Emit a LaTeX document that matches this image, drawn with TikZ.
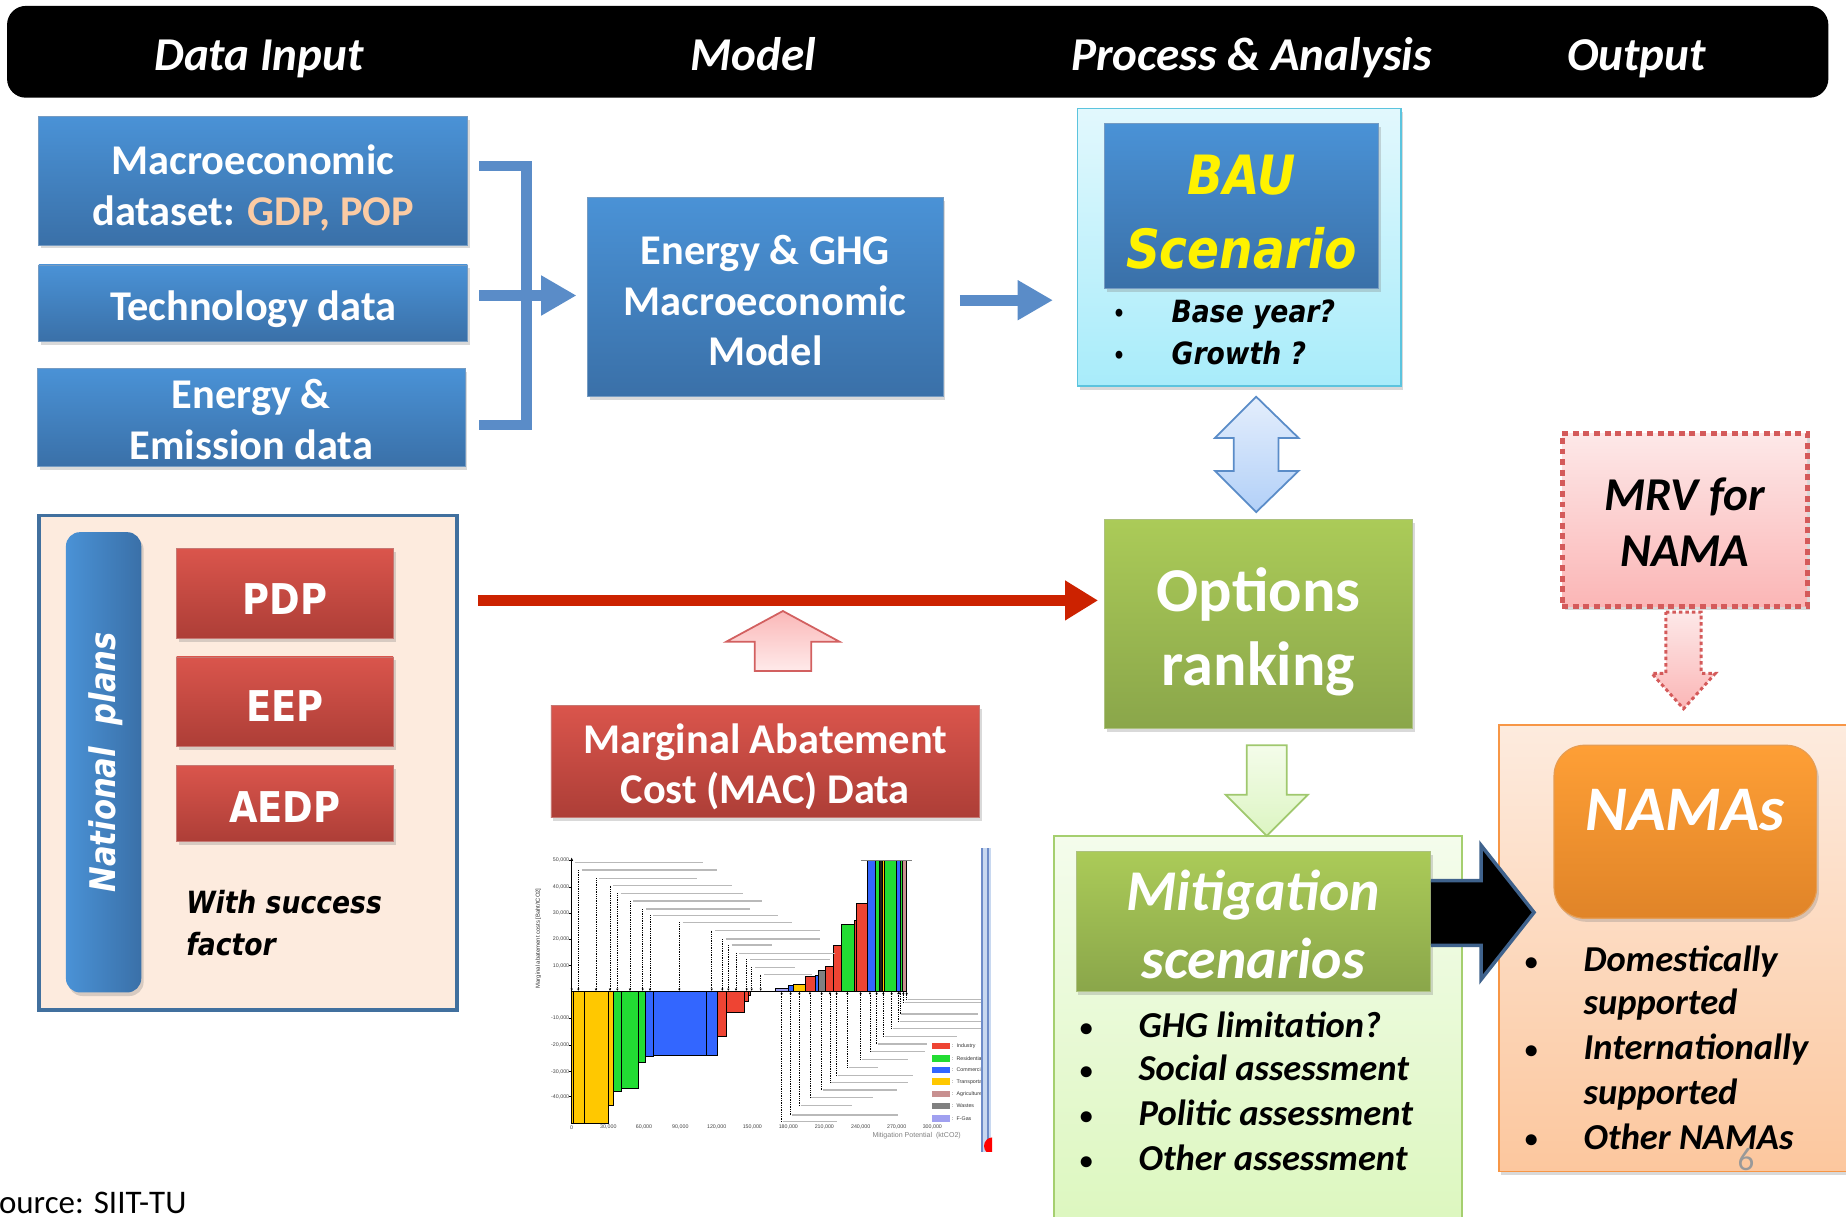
\documentclass[tikz,border=0pt]{standalone}
\usepackage{fontspec}
\setmainfont{Carlito}
\newfontfamily\tah[FakeStretch=0.87]{DejaVu Sans}
\newfontfamily\chartfont{Liberation Sans}
\usetikzlibrary{shadows,arrows.meta,calc}
\definecolor{blueT}{HTML}{4A92D6}
\definecolor{blueB}{HTML}{3A70A8}
\definecolor{redT}{HTML}{DA554C}
\definecolor{redB}{HTML}{AD3E37}
\definecolor{grnT}{HTML}{ABCB58}
\definecolor{grnB}{HTML}{8AA64A}
\definecolor{orgT}{HTML}{FE9F36}
\definecolor{orgB}{HTML}{E08428}
\definecolor{peach}{HTML}{FBCBA4}
\definecolor{brk}{HTML}{5A8CC8}
\definecolor{arrred}{HTML}{CC2200}
\definecolor{cY}{HTML}{FFC800}
\definecolor{cG}{HTML}{22DD33}
\definecolor{cB}{HTML}{3366FF}
\definecolor{cR}{HTML}{EE4433}
\definecolor{cGr}{HTML}{808080}
\definecolor{cL}{HTML}{A0A0F0}
\definecolor{cA}{HTML}{C89090}
\definecolor{cK}{HTML}{202020}
\definecolor{bauT}{HTML}{E2F8FD}
\definecolor{bauB}{HTML}{A8ECFA}
\definecolor{bauD}{HTML}{5CC4DE}
\definecolor{daT}{HTML}{E4EEFC}
\definecolor{daB}{HTML}{B2D0F8}
\definecolor{natF}{HTML}{FDEBDE}
\definecolor{natD}{HTML}{41709E}
\definecolor{pkT}{HTML}{FAB8B8}
\definecolor{pkB}{HTML}{FFEAEA}
\definecolor{pkD}{HTML}{D26060}
\definecolor{edgeF}{HTML}{C8D8F0}
\definecolor{edgeD}{HTML}{6E8CC8}
\definecolor{mitT}{HTML}{F4FCEC}
\definecolor{mitB}{HTML}{DCF7BE}
\definecolor{mitD}{HTML}{A5CF6F}
\definecolor{gaT}{HTML}{F4FCEA}
\definecolor{gaB}{HTML}{DCF5C2}
\definecolor{gaD}{HTML}{A0C86E}
\definecolor{namT}{HTML}{FDEBDE}
\definecolor{namB}{HTML}{FCC79E}
\definecolor{namD}{HTML}{F79646}
\definecolor{karD}{HTML}{3F628C}
\definecolor{mrvT}{HTML}{FDE8E8}
\definecolor{mrvB}{HTML}{FBB6B6}
\definecolor{mrvD}{HTML}{D45A5A}
\newcommand{\vblk}[7]{%
 \draw[#1] ({#2-#5},#3) -- ({#2+#5},#3) -- ({#2+#5},#7) -- ({#2+#6},#7) -- (#2,#4) -- ({#2-#6},#7) -- ({#2-#5},#7) -- cycle;}
\begin{document}
\begin{tikzpicture}[x=1pt,y=-1pt,
  sh/.style={drop shadow={opacity=0.3,shadow xshift=2pt,shadow yshift=-3pt}},
  sz/.style 2 args={minimum width=#1pt,minimum height=#2pt,inner sep=0pt},
  bluebox/.style={top color=blueT,bottom color=blueB,draw=blueB!70!white,line width=0.6pt,sh},
  redbox/.style={top color=redT,bottom color=redB,draw=redB!70!white,line width=0.6pt,sh},
  grnbox/.style={top color=grnT,bottom color=grnB,draw=grnB!70!white,line width=0.6pt,sh},
  wtxt/.style={text=white,align=center,inner sep=0pt,font=\bfseries\fontsize{36}{43}\selectfont},
  ptxt/.style={text=white,inner sep=0pt,font=\tah\bfseries\fontsize{36}{40}\selectfont},
  hdrtxt/.style={anchor=base,text=white,font=\bfseries\itshape\fontsize{40}{48}\selectfont},
  bul/.style={anchor=base west,inner sep=0pt,font=\bfseries\itshape\fontsize{31}{37}\selectfont},
  bdot/.style={anchor=base west,inner sep=0pt,font=\bfseries\fontsize{22}{26}\selectfont},
  tdot/.style={anchor=base west,inner sep=0pt,font=\tah\bfseries\fontsize{19}{24}\selectfont},
  tabtxt/.style={anchor=base west,inner sep=0pt,font=\tah\bfseries\itshape\fontsize{26}{31}\selectfont},
  shaftarr/.style={line width=9pt,-{Triangle[length=30pt,width=32pt]}},
  ldr/.style={densely dotted,line width=0.5pt},
  fake/.style={line width=1.1pt,gray!55},
]
\useasboundingbox (0,0) rectangle (1568,1033);

% ---------- header ----------
\node[fill=black,rounded corners=16pt,sz={1547}{78}] (hdr) at (779.5,44) {};
\node[hdrtxt] (h1) at (220,60) {Data Input};
\node[hdrtxt] (h2) at (640,60) {Model};
\node[hdrtxt] (h3) at (1063,60) {Process \& Analysis};
\node[hdrtxt] (h4) at (1390,60) {Output};

% ---------- data input ----------
\node[bluebox,sz={364}{109}] (macro) at (215,153.5) {};
\node[wtxt,yshift=-6pt] (macroT) at (macro) {Macroeconomic\\dataset: \textcolor{peach}{GDP, POP}};
\node[bluebox,sz={364}{65}] (tech) at (215,257.5) {};
\node[wtxt,yshift=-5pt] (techT) at (tech) {Technology data};
\node[bluebox,sz={363}{83}] (emis) at (213.5,354.5) {};
\node[wtxt,yshift=-2pt] (emisT) at (emis) {Energy \&\\Emission data};

% bracket
\coordinate (b1) at (407,141);
\coordinate (b2) at (407,251);
\coordinate (b3) at (407,361);
\draw[brk,line width=9pt] (b1) -- (447,141) -- (447,361) -- (b3);

% ---------- model ----------
\node[bluebox,sz={302}{169}] (model) at (650,252.5) {};
\node[wtxt,yshift=-3pt] (modelT) at (model) {Energy \& GHG\\Macroeconomic\\Model};
\draw[brk,shaftarr] (b2) -- ($(model.west |- b2)+(-9,0)$);

% ---------- BAU ----------
\node[top color=bauT,bottom color=bauB,draw=bauD,line width=1.2pt,sz={275}{236},sh] (bauout) at (1052.5,210) {};
\node[bluebox,sz={233}{140}] (bauin) at (1054.5,175) {};
\node[align=center,text=yellow,inner sep=0pt,yshift=-5pt,font=\tah\bfseries\itshape\fontsize{46}{63}\selectfont] (bauT) at (bauin) {BAU\\Scenario};
\node[tdot] (bb1) at (945,273) {•};
\node[tabtxt] (bt1) at (995,274) {Base year?};
\node[tdot] (bb2) at (945,309) {•};
\node[tabtxt] (bt2) at (995,310) {Growth ?};
\coordinate (ma) at ($(model.east)+(14,2.5)$);
\draw[brk,shaftarr] (ma) -- ($(bauout.west |- ma)+(-20,0)$);

% double arrow BAU <-> options
\draw[top color=daT,bottom color=daB,draw=brk,line width=1.5pt]
  (1067,337) -- (1103,372) -- (1086,372) -- (1086,400) -- (1103,400) -- (1067,435) -- (1032,400) -- (1048,400) -- (1048,372) -- (1032,372) -- cycle;

% ---------- options ranking ----------
\node[grnbox,sz={262}{178}] (opts) at (1069,530) {};
\node[wtxt,yshift=-7pt,font=\bfseries\fontsize{53}{63}\selectfont] (optsT) at (opts) {Options\\ranking};

% ---------- national plans ----------
\node[fill=natF,draw=natD,line width=3pt,sz={355}{420}] (natout) at (210.5,648) {};
\node[left color=blueT,right color=blueB,rounded corners=12pt,sz={64}{391},sh] (natbar) at (88,647.5) {};
\node[rotate=90,text=white,font=\tah\bfseries\itshape\fontsize{30}{36}\selectfont] (natlbl) at (90,647.5) {National\ \ plans};
\node[redbox,sz={184}{76}] (pdp) at (242,504) {};
\node[ptxt,yshift=-5pt] (pdpT) at (pdp) {PDP};
\node[redbox,sz={184}{76}] (eep) at (242,596) {};
\node[ptxt,yshift=-4pt] (eepT) at (eep) {EEP};
\node[redbox,sz={184}{65}] (aedp) at (242,682.5) {};
\node[ptxt,yshift=-3pt] (aedpT) at (aedp) {AEDP};
\node[tabtxt] (ws1) at (158,776) {With success};
\node[tabtxt] (ws2) at (158,812) {factor};

% red arrow
\coordinate (ra) at (406,510);
\draw[arrred,line width=10pt,-{Triangle[length=28pt,width=32pt]}] (ra) -- ($(opts.west |- ra)+(-5,0)$);

% ---------- MAC ----------
\node[redbox,sz={364}{95}] (mac) at (650,646.5) {};
\node[wtxt,yshift=-5pt] (macT) at (mac) {Marginal Abatement\\Cost (MAC) Data};
\vblk{top color=pkT,bottom color=pkB,draw=pkD,line width=1.5pt}{665}{570}{519}{24}{48}{545}

% ---------- chart ----------
\begin{scope}[shift={(441.7,713.5)},x=0.28313pt,y=-0.28313pt]
\clip (0,20) rectangle (1416,935);
\foreach \a/\b/\c/\col in {155/160/850/cY,160/192/850/cY,192/265/850/cY,265/281/797/cY,281/303/755/cG,303/355/745/cG,355/377/667/cG,377/400/648/cB,400/558/645/cB,558/593/645/cB,593/620/590/cR,620/672/518/cR,672/685/484/cR,685/690/465/cR,765/805/445/cL,805/820/435/cB,820/857/432/cY,857/885/408/cR,885/895/405/cB,895/915/390/cGr,915/940/378/cR,940/965/315/cR,965/1002/253/cG,1002/1008/240/cR,1008/1043/190/cR,1043/1067/60/cB,1067/1079/60/cG,1079/1086/60/cK,1086/1092/60/cY,1092/1130/60/cG,1130/1140/60/cB,1140/1148/60/cG,1148/1160/60/cA}
  \filldraw[fill=\col,draw=black,line width=0.35pt] (\a,453) rectangle (\b,\c);
\draw[gray,line width=0.8pt] (1022,60) -- (1175,60);
\draw[line width=0.5pt,-{Latex[length=3pt,width=2.5pt]}] (155,850) -- (155,52);
\draw[line width=0.5pt] (155,453) -- (1160,453);
\foreach \yy/\lab in {60/{50,000},140/{40,000},218/{30,000},297/{20,000},377/{10,000},535/{-10,000},615/{-20,000},695/{-30,000},770/{-40,000}}{
  \draw[line width=0.3pt] (148,\yy) -- (155,\yy);
  \node[anchor=east,inner sep=0.5pt,font=\chartfont\fontsize{4.5}{5}\selectfont,text=gray!50!black] at (150,\yy) {\lab};}
\foreach \xx/\lab in {155/0,265/{30,000},372/{60,000},481/{90,000},590/{120,000},697/{150,000},805/{180,000},913/{210,000},1022/{240,000},1130/{270,000},1237/{300,000}}
  \node[inner sep=0.5pt,font=\chartfont\fontsize{4.5}{5}\selectfont,text=gray!50!black] at (\xx,862) {\lab};
\node[rotate=90,font=\chartfont\fontsize{5}{6}\selectfont,text=gray!40!black] at (55,295) {Marginal abatement costs [Baht/tCO2]};
\node[font=\chartfont\fontsize{6}{7}\selectfont,text=gray] at (1190,887) {Mitigation Potential\ \ (ktCO2)};
\foreach \xx/\yy/\len in {155/68/383,175/90/405,228/115/292,270/137/355,292/160/368,330/183/385,368/207/312,390/226/375,478/247/327,575/272/315,607/297/283,625/315/120,648/340/287,680/358/240,695/382/120,722/404/145}{
  \draw[ldr,-{Latex[length=2pt,width=2pt]}] (\xx,\yy) -- (\xx,453);
  \draw[fake] ({\xx+10},\yy) -- ({\xx+10+\len},\yy);}
\foreach \xx/\yy/\ee in {785/845/950,812/825/1135,838/797/995,870/773/1058,905/750/1130,930/727/1165,950/707/1180,982/682/1075,1022/658/1165,1050/635/1215,1070/612/1220,1090/590/1310,1115/565/1385,1135/545/1410,1140/522/1375,1150/488/1410,1160/478/1410}{
  \draw[ldr,-{Latex[length=2pt,width=2pt]}] (\xx,\yy) -- (\xx,455);
  \draw[fake] ({\xx+4},\yy) -- (\ee,\yy);}
\foreach \yy/\col/\lab in {608/cR/Industry,645/cG/Residential,680/cB/Commercial,715/cY/Transportation,752/cA/Agriculture,788/cGr/Wastes,825/cL/F-Gas}{
  \fill[\col] (1235,\yy) rectangle (1290,{\yy+20});
  \node[anchor=west,inner sep=0pt,font=\chartfont\fontsize{4.5}{5}\selectfont,text=gray!40!black] at (1296,{\yy+10}) {:\ \ \lab};}
\fill[edgeF] (1386,25) rectangle (1412,935);
\draw[edgeD,line width=0.9pt] (1386,25) -- (1386,935) (1404,25) -- (1404,935);
\fill[red] (1418,918) circle (26);
\end{scope}

% ---------- mitigation ----------
\node[top color=mitT,bottom color=mitB,draw=mitD,line width=1.5pt,sz={347}{335}] (mitout) at (1068.5,877.5) {};
\vblk{top color=gaT,bottom color=gaB,draw=gaD,line width=1.5pt}{1076}{633}{710}{17}{35}{675}
\node[grnbox,sz={301}{119}] (mitin) at (1064.5,782.5) {};
\node[wtxt,yshift=-3pt,font=\bfseries\itshape\fontsize{49}{58}\selectfont] (mitT) at (mitin) {Mitigation\\scenarios};
\node[bdot] (mb1) at (917,880) {•};
\node[bul] (mt1) at (967,881) {GHG limitation?};
\node[bdot] (mb2) at (917,917) {•};
\node[bul] (mt2) at (967,918) {Social assessment};
\node[bdot] (mb3) at (917,955) {•};
\node[bul] (mt3) at (967,956) {Politic assessment};
\node[bdot] (mb4) at (917,993) {•};
\node[bul] (mt4) at (967,994) {Other assessment};

% ---------- NAMAs ----------
\node[top color=namT,bottom color=namB,draw=namD,line width=1.5pt,sz={307}{379},sh] (namout) at (1426.5,805.5) {};
\node[top color=orgT,bottom color=orgB,draw=orgB!80!white,line width=1pt,rounded corners=26pt,sz={223}{147},sh] (namin) at (1431.5,706.5) {};
\node[text=white,font=\bfseries\itshape\fontsize{54}{60}\selectfont] (namlbl) at (1431.5,688) {NAMAs};
\node[bdot] (nb1) at (1295,824) {•};
\node[bul] (nt1) at (1345,825) {Domestically};
\node[bul] (nt1b) at (1345,862) {supported};
\node[bdot] (nb2) at (1295,899) {•};
\node[bul] (nt2) at (1345,900) {Internationally};
\node[bul] (nt2b) at (1345,938) {supported};
\node[bdot] (nb3) at (1295,975) {•};
\node[bul] (nt3) at (1345,976) {Other NAMAs};
\node[anchor=base,inner sep=0pt,text=gray!80,font=\fontsize{28}{32}\selectfont] (pg) at (1483,994) {6};

% black arrow mitigation -> NAMAs
\coordinate (ka) at (mitin.east |- 0,748);
\coordinate (kb) at (mitin.east |- 0,803);
\fill[black] (ka) -- (1258,748) -- (1258,718) -- (1303,775) -- (1258,832) -- (1258,803) -- (kb) -- cycle;
\draw[karD,line width=3pt,line join=miter] (ka) -- (1258,748) -- (1258,718) -- (1303,775) -- (1258,832) -- (1258,803) -- (kb);

% ---------- MRV ----------
\node[top color=mrvT,bottom color=mrvB,draw=mrvD,line width=4pt,dash pattern=on 5pt off 4pt,sz={208}{147},sh] (mrv) at (1431,441.5) {};
\node[align=center,inner sep=0pt,yshift=-2pt,font=\bfseries\itshape\fontsize{40}{47}\selectfont] (mrvT) at (mrv) {MRV for\\NAMA};
\vblk{top color=mrvT,bottom color=mrvB,draw=mrvD,line width=2.5pt,dash pattern=on 3pt off 2.5pt}{1430}{520}{602}{15}{27}{572}

% ---------- source ----------
\node[anchor=base west,inner sep=0pt,font=\fontsize{28}{32}\selectfont] (src) at (-1,1031) {ource: SIIT-TU};
\end{tikzpicture}
\end{document}
